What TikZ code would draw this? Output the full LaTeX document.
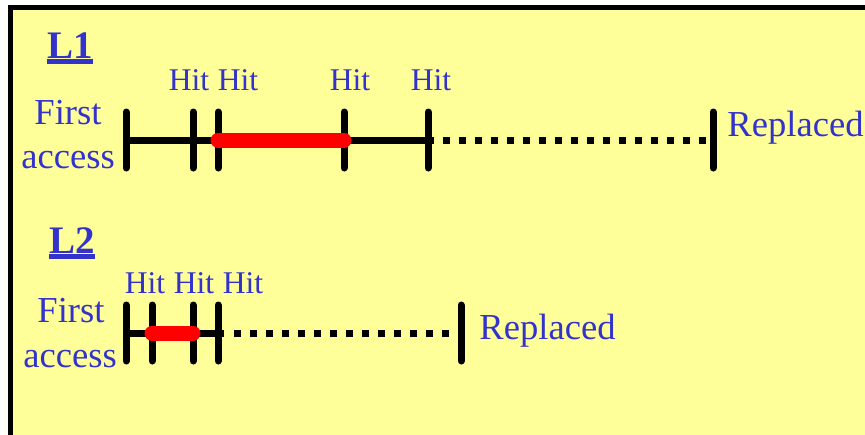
\documentclass[tikz,border=0pt]{standalone}
\usepackage{fontspec}
\setmainfont{Liberation Serif}
\usepackage{tikz}

\definecolor{notepaper}{HTML}{FFFF99}
\definecolor{labelblue}{HTML}{3333CC}
\definecolor{usedred}{HTML}{FF0000}

\tikzset{
  timeline/.style={line width=3.5pt},
  tickmark/.style={line width=3.5pt, line cap=round},
  liveseg/.style={usedred, line width=7.5pt, line cap=round},
  idleseg/.style={line width=3.5pt, dash pattern=on 3.5pt off 4.5pt},
  hitlabel/.style={labelblue, inner sep=0pt, anchor=base, font=\fontsize{15.8}{19}\selectfont},
  sidelabel/.style={labelblue, inner sep=0pt, font=\fontsize{18.3}{22}\selectfont},
  levellabel/.style={labelblue, inner sep=0pt, anchor=base west, font=\fontsize{19.5}{23}\selectfont\bfseries}
}

\begin{document}
\begin{tikzpicture}[x=0.5pt,y=-0.5pt]
  \useasboundingbox (0,0) rectangle (865,434);
  \fill[white] (0,0) rectangle (865,434);
  \clip (0,0) rectangle (865,434);
  \draw[line width=2.5pt, fill=notepaper] (10.5,7.5) rectangle (900,470);

  % L1
  \node[levellabel] (lvl1) at (47,58) {L1};
  \draw[labelblue, line width=2.3pt] ([yshift=-1.75pt]lvl1.base west) -- ([yshift=-1.75pt]lvl1.base east);
  \foreach \name/\x in {s1/126, h1a/193, h1b/218, h1c/344, h1d/428, r1/713}
    \coordinate (\name) at (\x,140);
  \draw[timeline] (s1) -- ([xshift=3pt]h1d);
  \foreach \name in {s1, h1a, h1b, h1c, h1d, r1}
    \draw[tickmark] ([yshift=14pt]\name) -- ([yshift=-14pt]\name);
  \draw[liveseg] (h1b) -- (h1c);
  \draw[idleseg] ([xshift=7.5pt]h1d) -- (r1);
  \node[hitlabel] (hit1a) at (189,90) {Hit};
  \node[hitlabel] (hit1b) at (238,90) {Hit};
  \node[hitlabel] (hit1c) at (350,90) {Hit};
  \node[hitlabel] (hit1d) at (431,90) {Hit};
  \node[sidelabel, anchor=base] (first1) at (68,124) {First};
  \node[sidelabel, anchor=base] (acc1) at (68,168) {access};
  \node[sidelabel, anchor=base west] (repl1) at (727,136) {Replaced};

  % L2
  \node[levellabel] (lvl2) at (49,253) {L2};
  \draw[labelblue, line width=2.3pt] ([yshift=-1.75pt]lvl2.base west) -- ([yshift=-1.75pt]lvl2.base east);
  \foreach \name/\x in {s2/126, h2a/152, h2b/193, h2c/218, r2/461}
    \coordinate (\name) at (\x,333);
  \draw[timeline] (s2) -- ([xshift=3pt]h2c);
  \foreach \name in {s2, h2a, h2b, h2c, r2}
    \draw[tickmark] ([yshift=14pt]\name) -- ([yshift=-14pt]\name);
  \draw[liveseg] (h2a) -- (h2b);
  \draw[idleseg] ([xshift=8pt]h2c) -- (r2);
  \node[hitlabel] (hit2a) at (145,293) {Hit};
  \node[hitlabel] (hit2b) at (194,293) {Hit};
  \node[hitlabel] (hit2c) at (243,293) {Hit};
  \node[sidelabel, anchor=base] (first2) at (71,322) {First};
  \node[sidelabel, anchor=base] (acc2) at (70,367) {access};
  \node[sidelabel, anchor=base west] (repl2) at (479,339) {Replaced};
\end{tikzpicture}
\end{document}
